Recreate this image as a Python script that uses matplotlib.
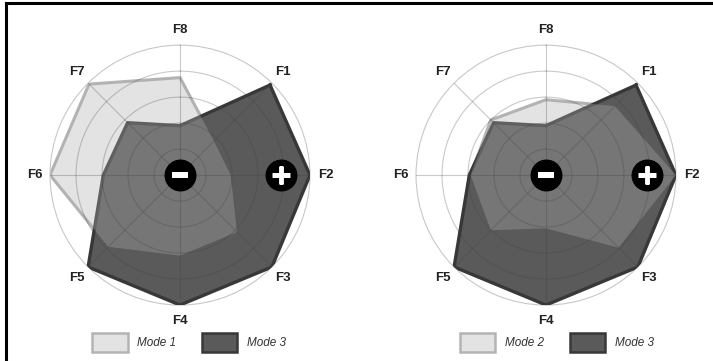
import numpy as np
import matplotlib.pyplot as plt
from matplotlib.patches import Patch
from matplotlib.lines import Line2D

factors = ['F1', 'F2', 'F3', 'F4', 'F5', 'F6', 'F7', 'F8']
mode1 = [0.37, 0.39, 0.62, 0.62, 0.78, 1.00, 0.99, 0.75]
mode2 = [0.75, 1.00, 0.79, 0.41, 0.60, 0.58, 0.60, 0.58]
mode3 = [0.98, 1.00, 1.00, 1.00, 1.00, 0.59, 0.57, 0.38]
rings = [0.2, 0.4, 0.6, 0.8, 1.0]

light_fill = '#aeaeae'
light_edge = '#b4b4b4'
dark_fill = '#5a5a5a'
dark_edge = '#383838'
grid_col = '#c8c8c8'

plt.rcParams['font.family'] = ['Liberation Sans', 'DejaVu Sans']

fig = plt.figure(figsize=(7.13, 3.61), dpi=100)

angles = np.arange(1, 9) * np.pi / 4   # F1 at 45 deg clockwise from top
closed = np.append(angles, angles[0])


def radar(ax, light, dark, light_name):
    ax.set_theta_zero_location('N')
    ax.set_theta_direction(-1)
    ax.set_ylim(0, 1)
    ax.set_yticks(rings)
    ax.set_yticklabels([])
    ax.set_xticks(angles)
    ax.set_xticklabels([])
    ax.grid(False)
    ax.spines['polar'].set_color(grid_col)
    ax.spines['polar'].set_linewidth(0.8)
    for a, name in zip(angles, factors):
        ax.text(a, 1.12, name, ha='center', va='center', fontsize=9.5,
                fontweight='bold', color='#222222')

    # rings and spokes drawn by hand so they can sit on top of the fills
    t = np.linspace(0, 2 * np.pi, 200)
    for r in rings[:-1]:
        ax.plot(t, np.full_like(t, r), color='#404040', alpha=0.28, lw=0.8, zorder=5)
    for a in angles:
        ax.plot([a, a], [0, 1], color='#404040', alpha=0.28, lw=0.8, zorder=5)

    lv = np.append(light, light[0])
    dv = np.append(dark, dark[0])
    # light edge under the dark shape
    ax.plot(closed, lv, color=light_edge, lw=2.2, zorder=2)
    ax.fill(closed, dv, color=dark_fill, zorder=3)
    ax.plot(closed, dv, color=dark_edge, lw=2.4, zorder=3)
    # light fill on top, translucent
    ax.fill(closed, lv, color=light_fill, alpha=0.34, lw=0, zorder=4)

    # minus / plus markers
    ax.plot(0, 0, 'o', ms=22, color='black', zorder=6)
    ax.plot(0, 0, marker='_', ms=12, mew=4, color='white', zorder=7)
    ax.plot(np.pi / 2, 0.78, 'o', ms=22, color='black', zorder=6)
    ax.plot(np.pi / 2, 0.78, marker='+', ms=13, mew=3.5, color='white', zorder=7)

    handles = [Patch(facecolor='#e3e3e3', edgecolor=light_edge, lw=1.8),
               Patch(facecolor=dark_fill, edgecolor=dark_edge, lw=1.8)]
    return handles, [light_name, 'Mode 3']


legend_kw = dict(loc='center', ncol=2, frameon=False,
                 prop={'family': 'Liberation Sans', 'size': 8.5, 'style': 'italic'},
                 handlelength=3.0, handleheight=2.05, handletextpad=0.8,
                 columnspacing=2.2, labelcolor='#333333')

ax1 = fig.add_axes([0.0701, 0.155, 0.3647, 0.720], projection='polar')
h, l = radar(ax1, mode1, mode3, 'Mode 1')
fig.legend(h, l, bbox_to_anchor=(0.265, 0.052), **legend_kw)

ax2 = fig.add_axes([0.5834, 0.155, 0.3647, 0.720], projection='polar')
h, l = radar(ax2, mode2, mode3, 'Mode 2')
fig.legend(h, l, bbox_to_anchor=(0.781, 0.052), **legend_kw)

# frame lines at top and left
fig.add_artist(Line2D([0.008, 1.0], [0.992, 0.992], color='black', lw=2.2, transform=fig.transFigure))
fig.add_artist(Line2D([0.008, 0.008], [0.0, 0.992], color='black', lw=2.2, transform=fig.transFigure))

fig.savefig('out.png', dpi=100)
